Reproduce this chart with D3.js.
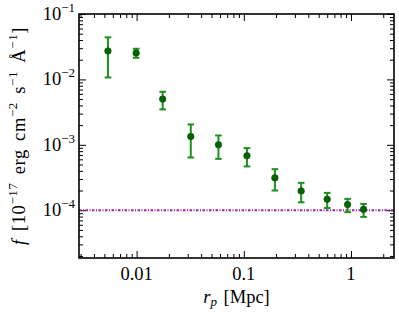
<!DOCTYPE html>
<html lang="en">
  <head>
    <meta charset="UTF-8" />
    <script src="https://d3js.org/d3.v7.min.js"></script>
    <style>
      body { margin: 0; background: #fff; }
      text { font-family: 'Liberation Serif', serif; fill: #000; }
    </style>
  </head>
  <body>
    <script>
      // projected radius [Mpc]
      var rp = [0.0054, 0.0099, 0.0175, 0.032, 0.058, 0.107, 0.195, 0.343, 0.6, 0.93, 1.31]
      // flux and its error range [1e-17 erg cm^-2 s^-1 A^-1]
      var flux = [0.0272, 0.0253, 0.005, 0.00134, 0.001, 0.00068, 0.000312, 0.000197, 0.000147, 0.000122, 0.000103]
      var fluxLow = [0.0107, 0.0214, 0.00348, 0.00064, 0.00061, 0.000467, 0.0002, 0.000132, 0.000108, 0.0000933, 0.000079]
      var fluxHigh = [0.044, 0.0294, 0.00647, 0.00205, 0.00139, 0.00089, 0.000424, 0.000262, 0.000184, 0.000149, 0.000125]
      var background = 1e-4
      var xTicks = [0.01, 0.1, 1]
      var xTickLabels = ['0.01', '0.1', '1']
      var yTicks = [1e-4, 1e-3, 1e-2, 1e-1]
      var yTickExp = [-4, -3, -2, -1]

      var width = 399
      var height = 313
      var margin = { top: 14, right: 5, bottom: 55, left: 79 }

      var svg = d3.select('body').append('svg')
        .attr('width', width)
        .attr('height', height)

      var x = d3.scaleLog().domain([0.0029, 2.52]).range([margin.left, width - margin.right])
      var y = d3.scaleLog().domain([1.86e-5, 0.1]).range([height - margin.bottom, margin.top])

      // minor ticks: 2..9 of every decade inside the range
      function minors(scale) {
        var dom = scale.domain()
        var out = []
        for (var e = -6; e <= 1; e++) {
          for (var m = 2; m <= 9; m++) {
            var v = m * Math.pow(10, e)
            if (v >= dom[0] && v <= dom[1]) out.push(v)
          }
        }
        return out
      }

      function drawAxis(axisFn, scale, transform, values, size) {
        var g = svg.append('g')
          .attr('transform', transform)
          .call(axisFn(scale).tickValues(values).tickSize(-size).tickFormat(''))
        g.select('.domain').remove()
        g.selectAll('line').attr('stroke', '#000').attr('stroke-width', 1)
        return g
      }

      var bottomY = height - margin.bottom
      var rightX = width - margin.right

      drawAxis(d3.axisBottom, x, 'translate(0,' + bottomY + ')', minors(x), 4)
      drawAxis(d3.axisBottom, x, 'translate(0,' + bottomY + ')', xTicks, 7)
      drawAxis(d3.axisTop, x, 'translate(0,' + margin.top + ')', minors(x), 4)
      drawAxis(d3.axisTop, x, 'translate(0,' + margin.top + ')', xTicks, 7)
      drawAxis(d3.axisLeft, y, 'translate(' + margin.left + ',0)', minors(y), 4)
      drawAxis(d3.axisLeft, y, 'translate(' + margin.left + ',0)', yTicks, 7)
      drawAxis(d3.axisRight, y, 'translate(' + rightX + ',0)', minors(y), 4)
      drawAxis(d3.axisRight, y, 'translate(' + rightX + ',0)', yTicks, 7)

      // x tick labels
      svg.append('g').selectAll('text')
        .data(xTicks)
        .enter()
        .append('text')
        .attr('x', function (d) { return x(d) })
        .attr('y', bottomY + 21.5)
        .attr('text-anchor', 'middle')
        .attr('font-size', 18.5)
        .text(function (d, i) { return xTickLabels[i] })

      // y tick labels 10^n
      var yl = svg.append('g').selectAll('text')
        .data(yTicks)
        .enter()
        .append('text')
        .attr('x', margin.left - 4)
        .attr('y', function (d) { return y(d) + 6 })
        .attr('text-anchor', 'end')
        .attr('font-size', 18.5)
      yl.append('tspan').text('10')
      yl.append('tspan')
        .attr('dy', -8)
        .attr('font-size', 13)
        .text(function (d, i) { return '\u2212' + Math.abs(yTickExp[i]) })

      // background level
      svg.append('line')
        .attr('x1', margin.left)
        .attr('x2', rightX)
        .attr('y1', y(background))
        .attr('y2', y(background))
        .attr('stroke', '#a21fa8')
        .attr('stroke-width', 2)
        .attr('stroke-dasharray', '2.5,1.5,1,1.5')

      // error bars
      var pts = svg.append('g').selectAll('g')
        .data(rp)
        .enter()
        .append('g')
      pts.append('line')
        .attr('x1', function (d) { return x(d) })
        .attr('x2', function (d) { return x(d) })
        .attr('y1', function (d, i) { return y(fluxLow[i]) })
        .attr('y2', function (d, i) { return y(fluxHigh[i]) })
        .attr('stroke', '#1f8f1f')
        .attr('stroke-width', 2)
      pts.selectAll('.cap')
        .data(function (d, i) { return [[d, fluxLow[i]], [d, fluxHigh[i]]] })
        .enter()
        .append('line')
        .attr('x1', function (d) { return x(d[0]) - 3.3 })
        .attr('x2', function (d) { return x(d[0]) + 3.3 })
        .attr('y1', function (d) { return y(d[1]) })
        .attr('y2', function (d) { return y(d[1]) })
        .attr('stroke', '#1f8f1f')
        .attr('stroke-width', 2)
      pts.append('circle')
        .attr('cx', function (d) { return x(d) })
        .attr('cy', function (d, i) { return y(flux[i]) })
        .attr('r', 3.3)
        .attr('fill', '#006400')
        .attr('stroke', '#0b520b')
        .attr('stroke-width', 0.6)

      // frame
      svg.append('rect')
        .attr('x', margin.left)
        .attr('y', margin.top)
        .attr('width', rightX - margin.left)
        .attr('height', bottomY - margin.top)
        .attr('fill', 'none')
        .attr('stroke', '#000')
        .attr('stroke-width', 1.6)

      // axis labels
      var xl = svg.append('text')
        .attr('x', (margin.left + rightX) / 2)
        .attr('y', 303)
        .attr('text-anchor', 'middle')
        .attr('font-size', 18.5)
        .attr('word-spacing', 2)
      xl.append('tspan').attr('font-style', 'italic').text('r')
      xl.append('tspan').attr('font-style', 'italic').attr('font-size', 13).attr('dy', 3).text('p')
      xl.append('tspan').attr('dy', -3).text(' [Mpc]')

      var ylab = svg.append('text')
        .attr('transform', 'translate(25,' + (margin.top + bottomY) / 2 + ') rotate(-90)')
        .attr('text-anchor', 'middle')
        .attr('font-size', 18.5)
        .attr('letter-spacing', 0.6)
        .attr('word-spacing', 3)
      var parts = [
        ['f', 'it'], [' [10', ''], ['\u221217', 'sup'], [' erg cm', ''], ['\u22122', 'sup'],
        [' s', ''], ['\u22121', 'sup'], [' \u00c5', ''], ['\u22121', 'sup'], [']', '']
      ]
      var prevSup = false
      parts.forEach(function (p) {
        var t = ylab.append('tspan').text(p[0])
        if (p[1] === 'it') t.attr('font-style', 'italic')
        if (p[1] === 'sup') {
          t.attr('font-size', 13).attr('dy', -8)
          prevSup = true
        } else if (prevSup) {
          t.attr('dy', 8)
          prevSup = false
        }
      })
    </script>
  </body>
</html>
